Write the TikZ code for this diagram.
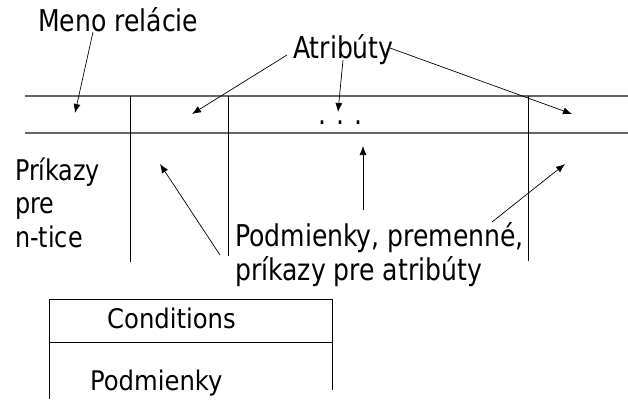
\documentclass[tikz,border=0pt]{standalone}
\usepackage{fontspec}
\setmainfont[FakeStretch=0.93]{DejaVu Sans Condensed}
\newfontfamily\boxfont{DejaVu Sans Condensed}
\usetikzlibrary{arrows.meta}

\begin{document}
\begin{tikzpicture}[x=1pt,y=-1pt,
  lbl/.style={inner sep=0pt, anchor=base west, align=left, font=\fontsize{30}{34}\selectfont},
  small/.style={lbl, font=\boxfont\fontsize{27}{30}\selectfont},
  hline/.style={line width=1.2pt, black!60},
  vline/.style={line width=0.8pt, black},
  arr/.style={-{Latex[length=9pt,width=7pt]}, line width=0.7pt}]
\useasboundingbox (0,0) rectangle (628,399);
% relation table
\draw[hline] (25,96) -- (628,96);
\draw[hline] (25,133) -- (628,133);
\draw[vline] (130,96) -- (130,262);
\draw[vline] (228,96) -- (228,256);
\draw[vline] (528,96) -- (528,261);
% conditions box
\draw[vline] (49,399) -- (49,299) -- (332,299) -- (332,390);
\draw[vline] (49,342) -- (332,342);
% labels (multi-line ones sit on their last line)
\node[lbl] (meno) at (38,31) {Meno relácie};
\node[lbl] (atr) at (293,58) {Atribúty};
\node[lbl] (dots) at (318,124) {.\,\,.\,\,.};
\node[lbl, font=\fontsize{28.5}{33.5}\selectfont] (prik) at (15,247) {Príkazy\\pre\\n-tice};
\node[lbl] (podm) at (235,280) {Podmienky, premenné,\\príkazy pre atribúty};
\node[small] (cond) at (107,328) {Conditions};
\node[small] (podmk) at (90,390) {Podmienky};
% arrow ends
\coordinate (m0) at (93,32);   \coordinate (m1) at (75,113);
\coordinate (a0) at (287,55);  \coordinate (a1) at (192,114);
\coordinate (b0) at (343,60);  \coordinate (b1) at (338,112);
\coordinate (c0) at (390,48);  \coordinate (c1) at (572,114);
\coordinate (p0) at (220,255); \coordinate (p1) at (160,164);
\coordinate (q0) at (363,210); \coordinate (q1) at (363,146);
\coordinate (r0) at (492,222); \coordinate (r1) at (565,164);
\draw[arr] (m0) -- (m1);
\draw[arr] (a0) -- (a1);
\draw[arr] (b0) -- (b1);
\draw[arr] (c0) -- (c1);
\draw[arr] (p0) -- (p1);
\draw[arr] (q0) -- (q1);
\draw[arr] (r0) -- (r1);
\end{tikzpicture}
\end{document}
